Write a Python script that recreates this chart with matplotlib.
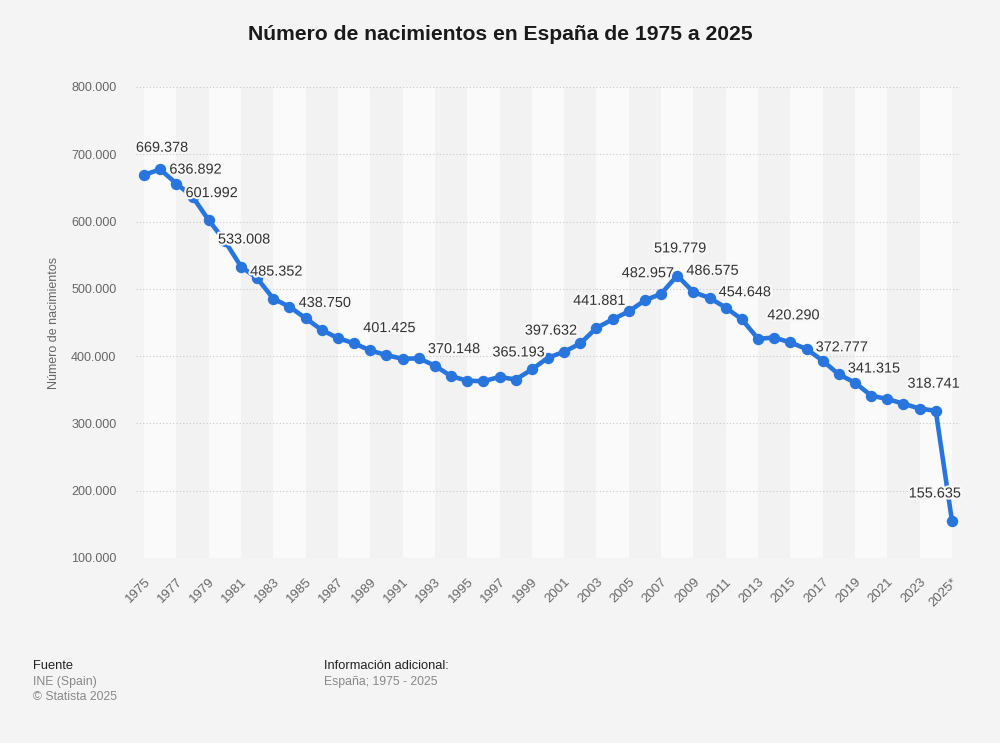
import matplotlib
matplotlib.use('Agg')
import matplotlib.pyplot as plt
import matplotlib.patheffects as pe

plt.rcParams['font.family'] = ['Liberation Sans', 'DejaVu Sans']

# Nacimientos en España (INE), 2025 provisional
years = list(range(1975, 2026))
births = [669378, 677456, 656357, 636892, 601992, 571018, 533008, 515706,
          485352, 473281, 456298, 438750, 426782, 418919, 408434, 401425,
          395989, 396747, 385786, 370148, 363469, 362626, 369035, 365193,
          380130, 397632, 406380, 418846, 441881, 454591, 466371, 482957,
          492527, 519779, 494997, 486575, 471999, 454648, 425715, 427595,
          420290, 410583, 393181, 372777, 360617, 341315, 336247, 329251,
          322075, 318741, 155635]
labelled_years = [1975, 1978, 1979, 1981, 1983, 1986, 1990, 1994, 1998, 2000,
                  2003, 2006, 2008, 2010, 2012, 2015, 2018, 2020, 2024, 2025]
label_shift = {1975: 15, 2024: -5, 2025: -20}  # px, keep labels inside plot
xtick_years = list(range(1975, 2026, 2))
xtick_labels = [str(y) for y in xtick_years[:-1]] + ['2025*']
yticks = list(range(100000, 800001, 100000))

BLUE = '#2876dd'
BG = '#f4f4f4'

fig = plt.figure(figsize=(10, 7.43), dpi=100, facecolor=BG)
ax = fig.add_axes([0.136, 0.249, 0.824, 0.634], facecolor=BG)

# alternating bands, two years wide
for i, y0 in enumerate(range(1975, 2025, 2)):
    ax.axvspan(y0, y0 + 2, color='#fafafa' if i % 2 == 0 else '#f2f2f2',
               lw=0, zorder=0)

ax.set_xlim(1974.5, 2025.5)
ax.set_ylim(100000, 800000)
ax.set_yticks(yticks)
ax.set_yticklabels([f"{v:,}".replace(',', '.') for v in yticks])
ax.yaxis.grid(True, color='#c8c8c8', ls=(0, (1, 2)), lw=0.8)
ax.set_axisbelow(True)
for s in ax.spines.values():
    s.set_visible(False)
ax.tick_params(axis='both', length=0, colors='#666666')
ax.tick_params(axis='y', labelsize=9, pad=14)
ax.set_xticks(xtick_years)
ax.set_xticklabels(xtick_labels, rotation=45, ha='right', va='top',
                   rotation_mode='anchor', fontsize=9.5)
ax.tick_params(axis='x', pad=13)
ax.set_ylabel('Número de nacimientos', color='#666666', fontsize=9, labelpad=8)

ax.plot(years, births, color=BLUE, lw=3.3, marker='o', ms=7.2,
        solid_joinstyle='round', zorder=3, clip_on=False)

for yr in labelled_years:
    v = births[years.index(yr)]
    ax.annotate(f"{v:,}".replace(',', '.'), (yr, v),
                xytext=(2 + label_shift.get(yr, 0) * 0.72, 19.5),
                textcoords='offset points', ha='center', va='center',
                fontsize=10.4, color='#333333', zorder=4,
                path_effects=[pe.withStroke(linewidth=3, foreground='#f8f8f8')])

fig.text(0.5, 0.953, 'Número de nacimientos en España de 1975 a 2025',
         ha='center', va='center', fontsize=15.2, fontweight='bold',
         color='#1a1a1a')

fig.text(0.033, 1 - 666 / 743, 'Fuente', fontsize=9.3, color='#222222', va='center')
fig.text(0.033, 1 - 682 / 743, 'INE (Spain)', fontsize=8.8, color='#888888', va='center')
fig.text(0.033, 1 - 697 / 743, '© Statista 2025', fontsize=8.8, color='#888888', va='center')
fig.text(0.324, 1 - 666 / 743, 'Información adicional:', fontsize=9.3, color='#222222', va='center')
fig.text(0.324, 1 - 682 / 743, 'España; 1975 - 2025', fontsize=8.8, color='#888888', va='center')

fig.savefig('out.png', dpi=100, facecolor=BG)
